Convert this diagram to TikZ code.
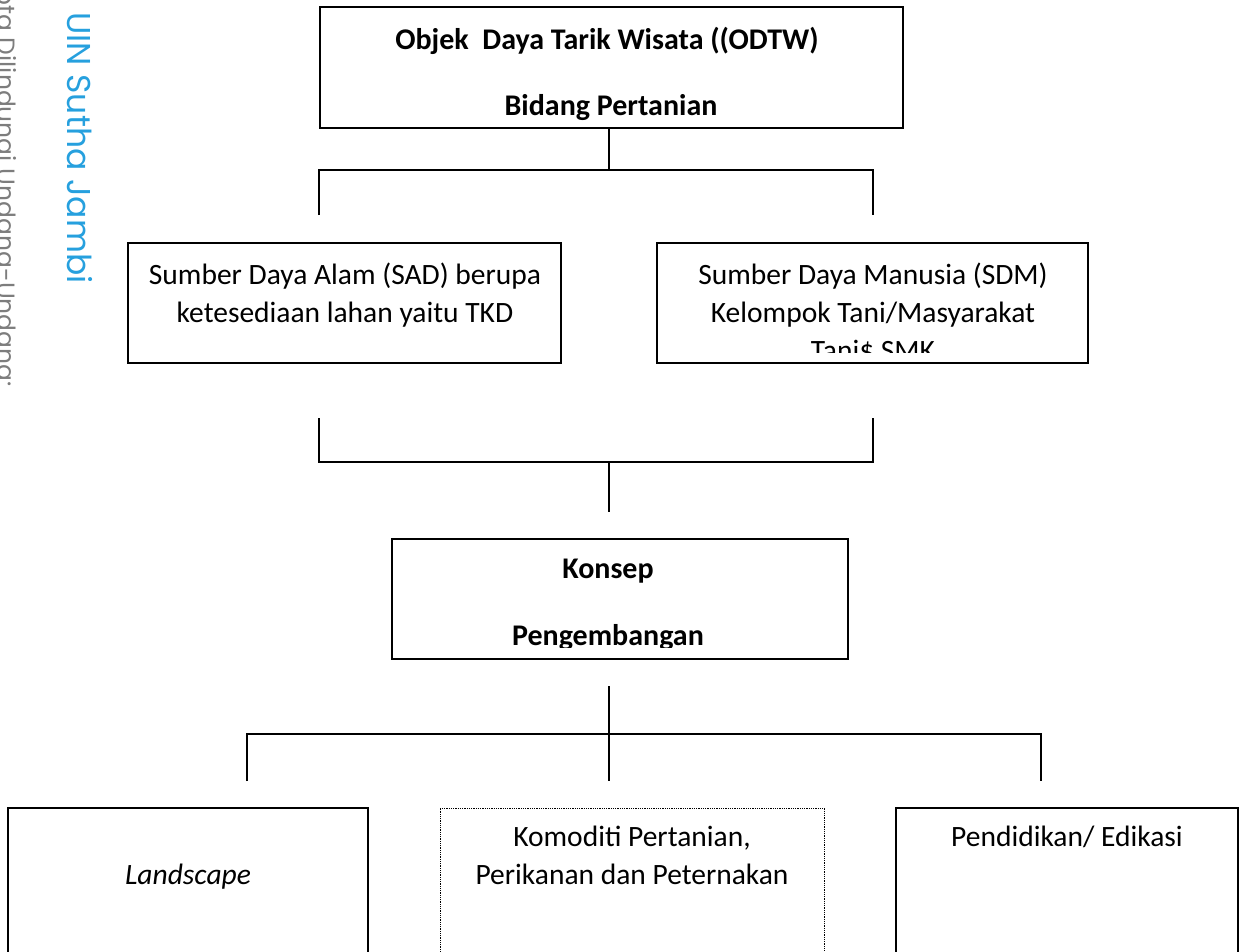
\documentclass[tikz,border=0pt]{standalone}
\usepackage{fontspec}
\setmainfont{Carlito}
\newfontfamily\marksans{Poppins}
\definecolor{uinblue}{RGB}{38,160,222}
\definecolor{markgray}{RGB}{125,125,125}
\begin{document}
\begin{tikzpicture}[x=1pt,y=-1pt,line join=miter,
	box/.style={draw=black,line width=1.2pt,inner sep=0pt},
	dotbox/.style={draw=black,line width=0.8pt,dash pattern=on 0.9pt off 0.9pt,inner sep=0pt},
	link/.style={draw=black,line width=1.8pt},
	txt/.style={anchor=base,inner sep=0pt,font=\fontsize{29.5}{38}\selectfont},
	btxt/.style={anchor=base,inner sep=0pt,font=\fontsize{30}{38}\selectfont\bfseries},
	markvert/.style={rotate=-90,anchor=base west,inner sep=0pt}]
		\clip (0,0) rectangle (1240,951);
		% watermark
		\node[markvert,text=markgray,font=\marksans\fontsize{25}{25}\selectfont](hak) at (-2,-18){ipta Dilindungi Undang-Undang:};
		\node[markvert,text=uinblue,font=\marksans\fontsize{33}{33}\selectfont](uin) at (67,12){UIN Sutha Jambi};
		% boxes
		\path(611.5,67.5)node(odtw)[box,minimum width=583pt,minimum height=121pt]{}
		(344.5,303)node(sda)[box,minimum width=433pt,minimum height=120pt]{}
		(872.5,303)node(sdm)[box,minimum width=431pt,minimum height=120pt]{}
		(620,599)node(konsep)[box,minimum width=456pt,minimum height=120pt]{}
		(188,888)node(land)[box,minimum width=360pt,minimum height=160pt]{}
		(632,888)node(komo)[dotbox,minimum width=384pt,minimum height=160pt]{}
		(1067,888)node(pend)[box,minimum width=342pt,minimum height=160pt]{}
		;
		% texts
		\node[btxt](odtw1) at (607,49){Objek\ \ Daya Tarik Wisata ((ODTW)};
		\node[btxt](odtw2) at (611,115){Bidang Pertanian};
		\node[txt](sda1) at (345,284){Sumber Daya Alam (SAD) berupa};
		\node[txt](sda2) at (345,322){ketesediaan lahan yaitu TKD};
		\node[txt](sdm1) at (873,284){Sumber Daya Manusia (SDM)};
		\node[txt](sdm2) at (873,322){Kelompok Tani/Masyarakat};
		\begin{scope}
			\clip (sdm.north west) rectangle (1088,352);
			\node[txt](sdm3) at (873,360){Tani\$ SMK};
		\end{scope}
		\node[btxt](konsep1) at (608,578){Konsep};
		\begin{scope}
			\clip (konsep.north west) rectangle (848,647);
			\node[btxt](konsep2) at (608,645){Pengembangan};
		\end{scope}
		\node[txt,font=\fontsize{29.5}{38}\selectfont\itshape](land1) at (188,884){Landscape};
		\node[txt](komo1) at (632,846){Komoditi Pertanian,};
		\node[txt](komo2) at (632,884){Perikanan dan Peternakan};
		\node[txt](pend1) at (1067,846){Pendidikan/ Edikasi};
		% connectors
		\coordinate(j1) at (609,170);
		\coordinate(l1) at (319,215);
		\coordinate(r1) at (873,215);
		\draw[link](odtw.south -| j1)--(j1);
		\draw[link](l1)--(l1 |- j1)--(r1 |- j1)--(r1);
		\coordinate(l2) at (319,418);
		\coordinate(r2) at (873,418);
		\coordinate(j2) at (609,462);
		\coordinate(k2) at (609,512);
		\draw[link](l2)--(l2 |- j2)--(r2 |- j2)--(r2);
		\draw[link](j2)--(k2);
		\coordinate(t3) at (609,686);
		\coordinate(j3) at (609,734);
		\coordinate(l3) at (247,781);
		\coordinate(m3) at (609,781);
		\coordinate(r3) at (1041,781);
		\draw[link](t3)--(m3);
		\draw[link](l3)--(l3 |- j3)--(r3 |- j3)--(r3);
\end{tikzpicture}
\end{document}
